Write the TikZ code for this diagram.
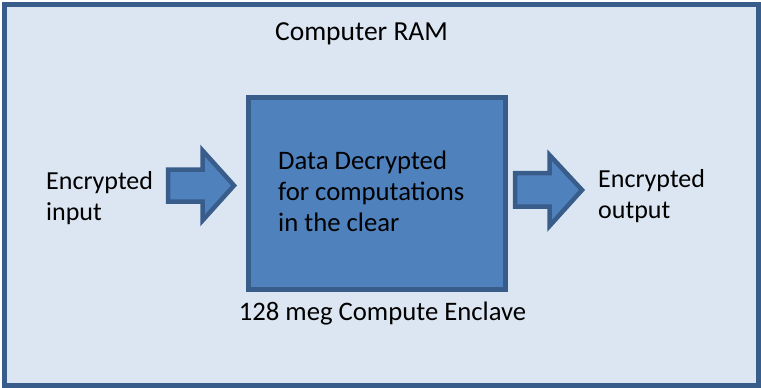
\documentclass[tikz,border=0pt]{standalone}
\usepackage{fontspec}
\setmainfont{Carlito}
\definecolor{bordblue}{HTML}{385D8A}
\definecolor{lightfill}{HTML}{DCE6F2}
\definecolor{midblue}{HTML}{4F81BD}
\begin{document}
\begin{tikzpicture}[x=1pt,y=-1pt,
  lbl/.style={inner sep=0pt,font=\fontsize{26}{31}\selectfont,text=black},
  lblb/.style={inner sep=0pt,font=\fontsize{26.7}{31}\selectfont,text=black},
  blockfill/.style={fill=midblue,draw=bordblue,line width=4.5pt,line join=miter}]
\useasboundingbox (0,0) rectangle (761,388);
\draw[fill=lightfill,draw=bordblue,line width=5pt] (4.5,4.5) rectangle (758.5,385.5);
\node[inner sep=0pt,font=\fontsize{27.5}{33}\selectfont,anchor=base] (title) at (361.5,40) {Computer RAM};
\node[draw=bordblue,fill=midblue,line width=5pt,minimum width=257pt,minimum height=192pt,inner sep=0pt] (enclave) at (376.5,193.5) {};
\node[lblb,anchor=base west] (d1) at (278,169) {Data Decrypted};
\node[lblb,anchor=base west] (d2) at (278,200) {for computations};
\node[lblb,anchor=base west] (d3) at (278,231) {in the clear};
\node[lblb,anchor=base] (caption) at (382.5,320) {128 meg Compute Enclave};
\node[lbl,anchor=base west] (in1) at (46,189) {Encrypted};
\node[lbl,anchor=base west] (in2) at (46,220) {input};
\node[lbl,anchor=base west] (out1) at (598,187) {Encrypted};
\node[lbl,anchor=base west] (out2) at (598,218) {output};
\draw[blockfill] (168,169.5) -- (202.5,169.5) -- (202.5,150.5) -- (234,185.5) -- (202.5,220.5) -- (202.5,201.5) -- (168,201.5) -- cycle;
\draw[blockfill] (515,173) -- (549.5,173) -- (549.5,155) -- (582,190) -- (549.5,226) -- (549.5,206.5) -- (515,206.5) -- cycle;
\end{tikzpicture}
\end{document}
